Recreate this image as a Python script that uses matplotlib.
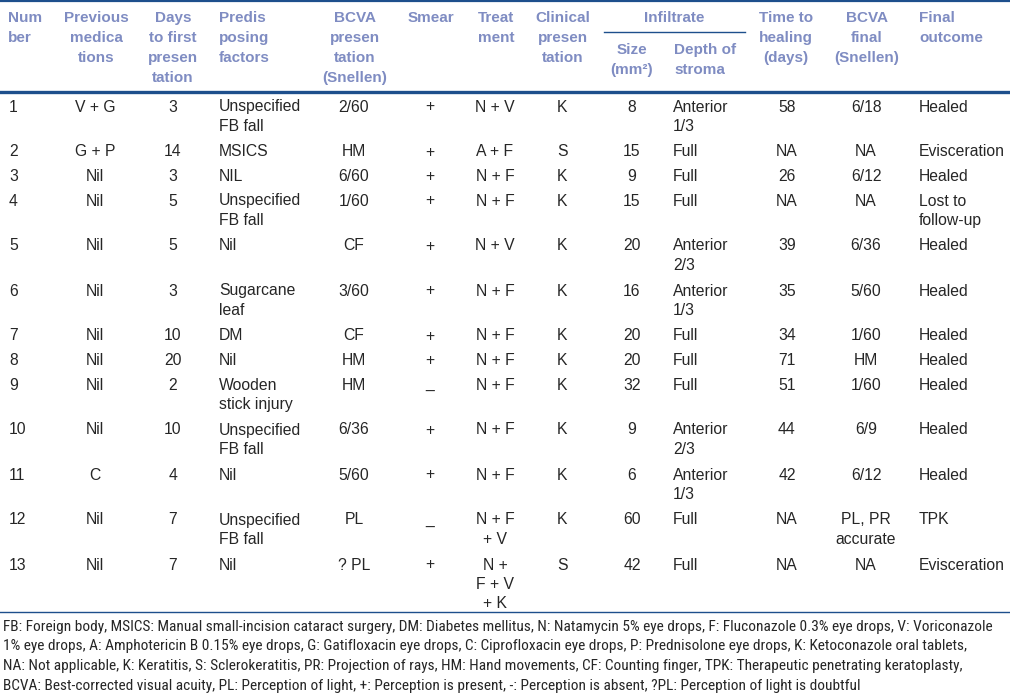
import matplotlib.pyplot as plt
from matplotlib import font_manager

# table content, row by row per column
numbers = ['1', '2', '3', '4', '5', '6', '7', '8', '9', '10', '11', '12', '13']
prev_med = ['V + G', 'G + P', 'Nil', 'Nil', 'Nil', 'Nil', 'Nil', 'Nil', 'Nil', 'Nil', 'C', 'Nil', 'Nil']
days = ['3', '14', '3', '5', '5', '3', '10', '20', '2', '10', '4', '7', '7']
predis = ['Unspecified\nFB fall', 'MSICS', 'NIL', 'Unspecified\nFB fall', 'Nil', 'Sugarcane\nleaf', 'DM', 'Nil',
          'Wooden\nstick injury', 'Unspecified\nFB fall', 'Nil', 'Unspecified\nFB fall', 'Nil']
bcva_pres = ['2/60', 'HM', '6/60', '1/60', 'CF', '3/60', 'CF', 'HM', 'HM', '6/36', '5/60', 'PL', '? PL']
smear = ['+', '+', '+', '+', '+', '+', '+', '+', '_', '+', '+', '_', '+']
treatment = ['N + V', 'A + F', 'N + F', 'N + F', 'N + V', 'N + F', 'N + F', 'N + F', 'N + F', 'N + F', 'N + F',
             'N + F\n+ V', 'N +\nF + V\n+ K']
clinical = ['K', 'S', 'K', 'K', 'K', 'K', 'K', 'K', 'K', 'K', 'K', 'K', 'S']
size = ['8', '15', '9', '15', '20', '16', '20', '20', '32', '9', '6', '60', '42']
depth = ['Anterior\n1/3', 'Full', 'Full', 'Full', 'Anterior\n2/3', 'Anterior\n1/3', 'Full', 'Full', 'Full',
         'Anterior\n2/3', 'Anterior\n1/3', 'Full', 'Full']
healing = ['58', 'NA', '26', 'NA', '39', '35', '34', '71', '51', '44', '42', 'NA', 'NA']
bcva_final = ['6/18', 'NA', '6/12', 'NA', '6/36', '5/60', '1/60', 'HM', '1/60', '6/9', '6/12', 'PL, PR\naccurate', 'NA']
outcome = ['Healed', 'Evisceration', 'Healed', 'Lost to\nfollow-up', 'Healed', 'Healed', 'Healed', 'Healed',
           'Healed', 'Healed', 'Healed', 'TPK', 'Evisceration']

headers = ['Num\nber', 'Previous\nmedica\ntions', 'Days\nto first\npresen\ntation', 'Predis\nposing\nfactors',
           'BCVA\npresen\ntation\n(Snellen)', 'Smear', 'Treat\nment', 'Clinical\npresen\ntation',
           'Size\n(mm\u00b2)', 'Depth of\nstroma', 'Time to\nhealing\n(days)', 'BCVA\nfinal\n(Snellen)',
           'Final\noutcome']
group_header = 'Infiltrate'

footnote = [
    'FB: Foreign body, MSICS: Manual small-incision cataract surgery, DM: Diabetes mellitus, N: Natamycin 5% eye drops, '
    'F: Fluconazole 0.3% eye drops, V: Voriconazole',
    '1% eye drops, A: Amphotericin B 0.15% eye drops, G: Gatifloxacin eye drops, C: Ciprofloxacin eye drops, '
    'P: Prednisolone eye drops, K: Ketoconazole oral tablets,',
    'NA: Not applicable, K: Keratitis, S: Sclerokeratitis, PR: Projection of rays, HM: Hand movements, '
    'CF: Counting finger, TPK: Therapeutic penetrating keratoplasty,',
    'BCVA: Best-corrected visual acuity, PL: Perception of light, +: Perception is present, -: Perception is absent, '
    '?PL: Perception of light is doubtful',
]

columns = [numbers, prev_med, days, predis, bcva_pres, smear, treatment, clinical, size, depth, healing,
           bcva_final, outcome]

# layout (pixels)
col_x = [9, 95, 173, 219, 354, 430, 495, 562, 632, 673, 787, 866, 919]
col_ha = ['left', 'center', 'center', 'left', 'center', 'center', 'center', 'center', 'center', 'left',
          'center', 'center', 'left']
head_x = [8, 96, 173, 219, 355, 431, 496, 563, 632, 674, 786, 867, 919]
line_col = '#1d4f8c'
head_col = '#7f8cc2'
body_col = '#262626'
line_h = 20

installed = {f.name for f in font_manager.fontManager.ttflist}
narrow = 'Liberation Sans'
for cand in ['Liberation Sans Narrow', 'Arial Narrow', 'DejaVu Sans Condensed', 'Roboto Condensed']:
    if cand in installed:
        narrow = cand
        break

fig = plt.figure(figsize=(10.1, 6.95), dpi=100)
ax = fig.add_axes([0, 0, 1, 1])
ax.set_xlim(0, 1010)
ax.set_ylim(695, 0)
ax.axis('off')

# rules
ax.plot([0, 1010], [0.8, 0.8], color=line_col, lw=1.6)
ax.plot([0, 1010], [92, 92], color=line_col, lw=2.4)
ax.plot([604, 745], [32, 32], color=line_col, lw=1.0)
ax.plot([0, 1010], [612, 612], color=line_col, lw=1.0)

# header
for x, ha, h in zip(head_x, col_ha, headers):
    top = 50 if h.startswith(('Size', 'Depth')) else 18
    for i, ln in enumerate(h.split('\n')):
        ax.text(x, top + i * line_h, ln, ha=ha, va='center', fontsize=11, fontweight='bold',
                color=head_col, family='Liberation Sans')
ax.text(674, 18, group_header, ha='center', va='center', fontsize=11, fontweight='bold',
        color=head_col, family='Liberation Sans')

# body
y = 107
for r in range(len(numbers)):
    nlines = max(col[r].count('\n') + 1 for col in columns)
    for x, ha, col in zip(col_x, col_ha, columns):
        for i, ln in enumerate(col[r].split('\n')):
            ax.text(x, y + i * 19.5, ln, ha=ha, va='center', fontsize=11.3, color=body_col,
                    family='Liberation Sans')
    y += 24.5 + 20.5 * min(nlines - 1, 1) - (1.5 if nlines > 2 else 0)

# footnote, sized so the first line spans the table width
foot = [ax.text(3, 626.5 + i * 19.8, ln, ha='left', va='center', fontsize=10.5, color=body_col,
                family=narrow) for i, ln in enumerate(footnote)]
fig.canvas.draw()
w = foot[0].get_window_extent().width
fs = 10.5 * 998 / w
for t in foot:
    t.set_fontsize(fs)

fig.savefig('out.png', dpi=100)
